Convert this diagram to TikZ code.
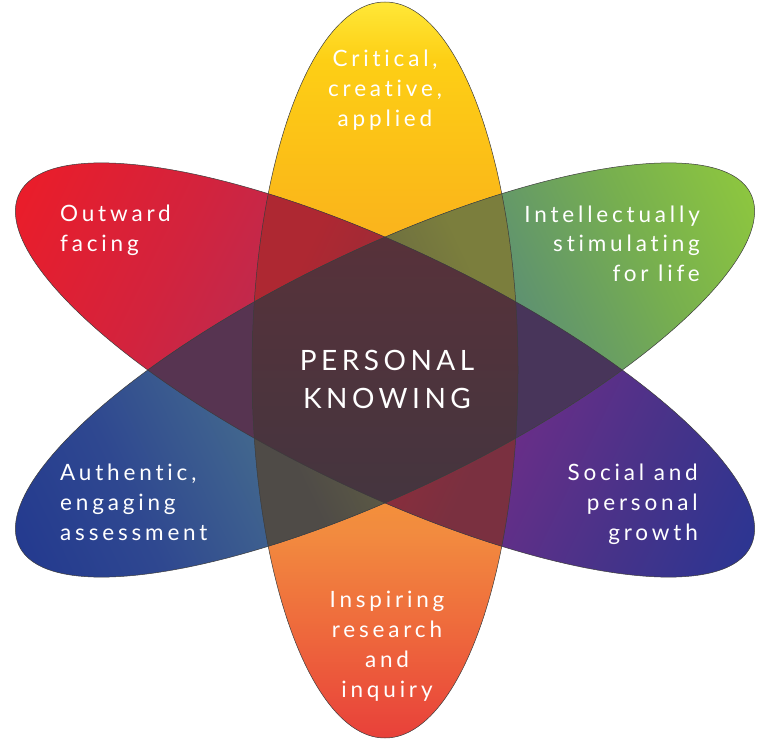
\documentclass[tikz,border=0pt]{standalone}
\usepackage{fontspec}
\newfontfamily\petalfont{Lato}[LetterSpace=17,Ligatures=NoCommon]
\newfontfamily\corefont{Lato}[LetterSpace=16,Ligatures=NoCommon]
% petal colours
\definecolor{vA}{HTML}{FFE838}\definecolor{vB}{HTML}{FDCF15}\definecolor{vC}{HTML}{FBBB18}
\definecolor{vD}{HTML}{F7A02B}\definecolor{vE}{HTML}{F28B3F}\definecolor{vF}{HTML}{EE673C}\definecolor{vG}{HTML}{E8403A}
\definecolor{rA}{HTML}{EA1D2A}\definecolor{rB}{HTML}{D3233D}\definecolor{rC}{HTML}{C1294C}
\definecolor{rD}{HTML}{962C6C}\definecolor{rE}{HTML}{682E88}\definecolor{rF}{HTML}{463389}\definecolor{rG}{HTML}{2C3592}
\definecolor{gA}{HTML}{243A8F}\definecolor{gB}{HTML}{2F4890}\definecolor{gC}{HTML}{42678E}
\definecolor{gD}{HTML}{4F7D80}\definecolor{gE}{HTML}{5E9171}\definecolor{gF}{HTML}{77AF4F}\definecolor{gG}{HTML}{8DC63F}
% overlap colours
\definecolor{oVRa}{HTML}{AE2832}\definecolor{oVRb}{HTML}{7A3040}
\definecolor{oVGa}{HTML}{4F4B47}\definecolor{oVGb}{HTML}{7B7E3D}
\definecolor{oRGa}{HTML}{573451}\definecolor{oRGb}{HTML}{48355A}
\definecolor{coreTop}{HTML}{58323A}\definecolor{coreBot}{HTML}{44353F}
\definecolor{rimgray}{HTML}{3C3C3C}
\pgfdeclarehorizontalshading{yellowred}{100bp}{color(0bp)=(vA); color(8bp)=(vB); color(25bp)=(vC); color(50bp)=(vD); color(72bp)=(vE); color(86bp)=(vF); color(100bp)=(vG)}
\pgfdeclarehorizontalshading{redblue}{100bp}{color(0bp)=(rA); color(20bp)=(rB); color(32bp)=(rC); color(50bp)=(rD); color(68bp)=(rE); color(85bp)=(rF); color(100bp)=(rG)}
\pgfdeclarehorizontalshading{bluegreen}{100bp}{color(0bp)=(gA); color(15bp)=(gB); color(32bp)=(gC); color(50bp)=(gD); color(68bp)=(gE); color(85bp)=(gF); color(100bp)=(gG)}
\pgfdeclarehorizontalshading{overVR}{100bp}{color(0bp)=(oVRa); color(35bp)=(oVRa); color(65bp)=(oVRb); color(100bp)=(oVRb)}
\pgfdeclarehorizontalshading{overVG}{100bp}{color(0bp)=(oVGa); color(35bp)=(oVGa); color(65bp)=(oVGb); color(100bp)=(oVGb)}
\pgfdeclarehorizontalshading{overRG}{100bp}{color(0bp)=(oRGa); color(30bp)=(oRGa); color(70bp)=(oRGb); color(100bp)=(oRGb)}
\pgfdeclarehorizontalshading{overcore}{100bp}{color(0bp)=(coreTop); color(100bp)=(coreBot)}
\tikzset{
  petalV/.style={shift={(385,370)},rotate=-90},
  petalR/.style={shift={(385,370)},rotate=-25.7},
  petalG/.style={shift={(385,370)},rotate=25.7},
  rim/.style={draw=rimgray,line width=.5pt},
  petaltext/.style={text=white,inner sep=0pt,font=\petalfont\fontsize{22.5}{30}\selectfont},
  coretext/.style={text=white,inner sep=0pt,font=\corefont\fontsize{28}{38}\selectfont},
}
\newcommand\shadein[4]{\begin{scope}[#1]\pgftransformxscale{#2/50}\pgftransformyscale{#3/50}\pgflowlevelsynccm\pgfuseshading{#4}\end{scope}}
\newcommand\ellV{(0,0) ellipse (368 and 133)}
\newcommand\ellT{(0,0) ellipse (406 and 121)}
\begin{document}
\begin{tikzpicture}[x=1pt,y=1pt]
\useasboundingbox (0,0) rectangle (770,740);
% petals
\begin{scope}\clip[petalV]\ellV;\shadein{petalV}{368}{143}{yellowred}\end{scope}
\begin{scope}\clip[petalR]\ellT;\shadein{petalR}{406}{131}{redblue}\end{scope}
\begin{scope}\clip[petalG]\ellT;\shadein{petalG}{406}{131}{bluegreen}\end{scope}
% pairwise overlaps
\begin{scope}\clip[petalV]\ellV;\clip[petalR]\ellT;\shadein{petalR}{406}{131}{overVR}\end{scope}
\begin{scope}\clip[petalV]\ellV;\clip[petalG]\ellT;\shadein{petalG}{406}{131}{overVG}\end{scope}
\begin{scope}\clip[petalR]\ellT;\clip[petalG]\ellT;\shadein{shift={(385,370)}}{300}{300}{overRG}\end{scope}
% centre
\begin{scope}\clip[petalV]\ellV;\clip[petalR]\ellT;\clip[petalG]\ellT;\shadein{petalV}{140}{140}{overcore}\end{scope}
\draw[rim,petalV]\ellV;\draw[rim,petalR]\ellT;\draw[rim,petalG]\ellT;
% labels (base = last line)
\node[petaltext,align=center,anchor=base] (critical) at (385,613) {Critical,\\creative,\\applied};
\node[petaltext,align=left,anchor=base west] (outward) at (60,488) {Outward\\facing};
\node[petaltext,align=right,anchor=base east] (intellect) at (700,458) {Intellectually\\stimulating\\for life};
\node[petaltext,align=left,anchor=base west] (authentic) at (60,200) {Authentic,\\engaging\\assessment};
\node[petaltext,align=right,anchor=base east] (social) at (698,200) {Social and\\personal\\growth};
\node[petaltext,align=center,anchor=base] (inspiring) at (387,43) {Inspiring\\research\\and\\inquiry};
\node[coretext,align=center,anchor=base] (knowing) at (387,332) {PERSONAL\\KNOWING};
\end{tikzpicture}
\end{document}
